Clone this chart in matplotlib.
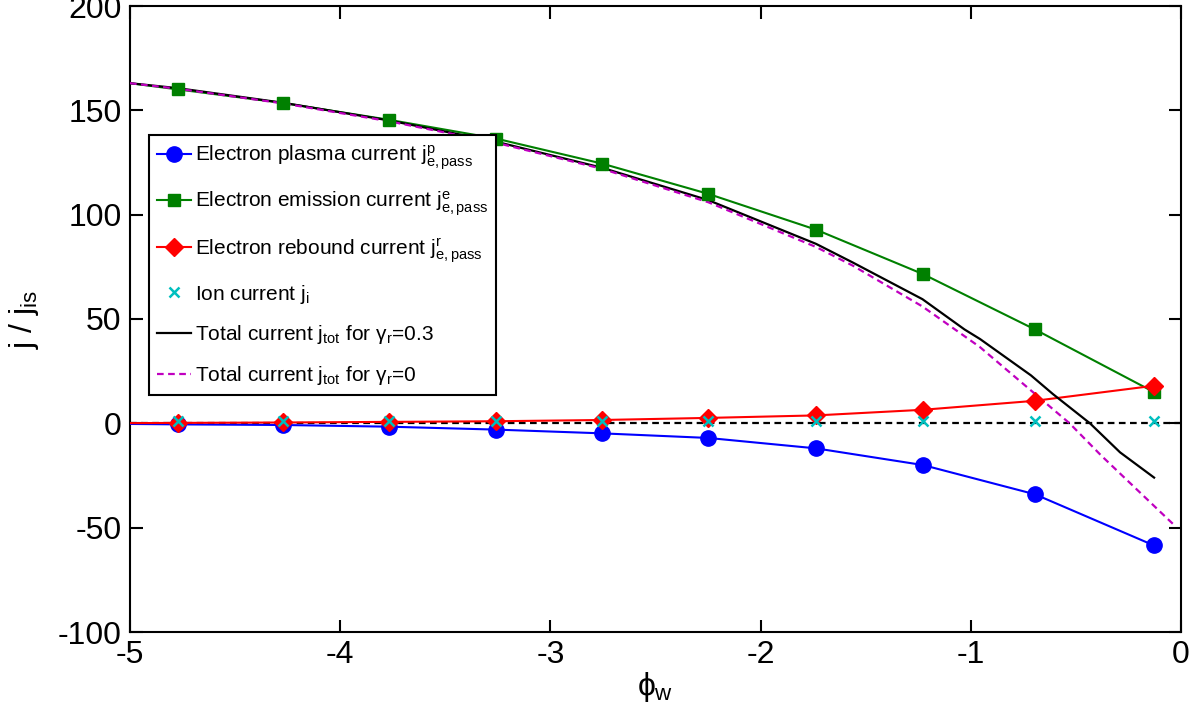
import numpy as np
import matplotlib
matplotlib.use("Agg")
import matplotlib.pyplot as plt

plt.rcParams['font.family'] = ['Liberation Sans', 'DejaVu Sans']
plt.rcParams['mathtext.fontset'] = 'custom'
plt.rcParams['mathtext.rm'] = 'Liberation Sans'
plt.rcParams['mathtext.it'] = 'Liberation Sans'
plt.rcParams['mathtext.bf'] = 'Liberation Sans:bold'
plt.rcParams['axes.unicode_minus'] = False

# marker positions (phi_w)
phi = [-4.77, -4.27, -3.77, -3.26, -2.755, -2.25, -1.736, -1.227, -0.695, -0.129]

# line positions start at the left edge
phi_line = [-5.0] + phi

# electron plasma current
j_plasma = [-0.5, -0.8, -1.6, -3.0, -4.8, -7.0, -12.0, -20.0, -34.0, -58.5]
j_plasma_line = [-0.3] + j_plasma
# electron emission current
j_emis = [160.0, 153.5, 145.5, 136.5, 124.5, 110.0, 92.8, 71.5, 45.0, 15.0]
j_emis_line = [163.0] + j_emis
# electron rebound current
j_reb = [0.2, 0.4, 0.7, 1.0, 1.6, 2.6, 3.8, 6.5, 10.8, 18.0]
j_reb_line = [0.1] + j_reb
# ion current
j_ion = [1.0] * 10

# total current, gamma_r = 0.3
phi_tot = [-5.0, -4.77, -4.27, -3.77, -3.26, -2.755, -2.25, -1.736, -1.56, -1.23,
           -1.03, -0.956, -0.714, -0.609, -0.433, -0.29, -0.128]
j_tot = [163.0, 160.6, 153.6, 145.2, 135.0, 122.5, 107.0, 86.0, 77.0, 59.5,
         45.0, 40.4, 23.0, 14.0, 0.0, -13.9, -26.0]

# total current, gamma_r = 0
phi_tot0 = [-5.0, -4.77, -4.27, -3.77, -3.26, -2.755, -2.25, -1.736, -1.56, -1.23,
            -0.956, -0.705, -0.53, -0.38, -0.03]
j_tot0 = [163.0, 160.3, 153.3, 144.8, 134.5, 122.0, 106.0, 84.5, 75.5, 56.0,
          36.5, 15.0, 0.0, -15.4, -49.0]

fig = plt.figure(figsize=(11.99, 7.17), dpi=100)
ax = fig.add_axes([130/1199, 85/717, 1051/1199, 626/717])

ax.axhline(0, color='k', ls='--', lw=1.6, dashes=(3, 2), zorder=1)

ax.plot(phi_line, j_plasma_line, color='b', lw=1.5, zorder=3)
ax.plot(phi, j_plasma, 'o', color='b', ms=11, zorder=4)
ax.plot(phi_line, j_emis_line, color=(0, 0.5, 0), lw=1.5, zorder=3)
ax.plot(phi, j_emis, 's', color=(0, 0.5, 0), ms=9, zorder=4)
ax.plot(phi_line, j_reb_line, color='r', lw=1.5, zorder=3)
ax.plot(phi, j_reb, 'D', color='r', ms=9, zorder=4)
ax.plot(phi, j_ion, 'x', color=(0, 0.75, 0.75), ms=7, mew=1.8, zorder=5)
ax.plot(phi_tot, j_tot, color='k', lw=1.6, zorder=3)
ax.plot(phi_tot0, j_tot0, color='#c000c0', lw=1.6, ls='--', dashes=(3, 2), zorder=3)

# legend handles
h1, = ax.plot([], [], '-o', color='b', ms=11, lw=1.5)
h2, = ax.plot([], [], '-s', color=(0, 0.5, 0), ms=9, lw=1.5)
h3, = ax.plot([], [], '-D', color='r', ms=9, lw=1.5)
h4, = ax.plot([], [], 'x', color=(0, 0.75, 0.75), ms=7, mew=1.8)
h5, = ax.plot([], [], '-', color='k', lw=1.6)
h6, = ax.plot([], [], '--', color='#c000c0', lw=1.6, dashes=(3, 2))
labels = [r'Electron plasma current $\mathrm{j^{p}_{e,pass}}$',
          r'Electron emission current $\mathrm{j^{e}_{e,pass}}$',
          r'Electron rebound current $\mathrm{j^{r}_{e,pass}}$',
          r'Ion current $\mathrm{j_{i}}$',
          r'Total current $\mathrm{j_{tot}}$ for $\gamma_{\mathrm{r}}$=0.3',
          r'Total current $\mathrm{j_{tot}}$ for $\gamma_{\mathrm{r}}$=0']
leg = ax.legend([h1, h2, h3, h4, h5, h6], labels, loc='upper left',
                bbox_to_anchor=(0.018, 0.794), fontsize=15, frameon=True,
                fancybox=False, edgecolor='k', framealpha=1, borderaxespad=0,
                handlelength=1.6, handletextpad=0.2, labelspacing=0.85,
                borderpad=0.4)
leg.get_frame().set_linewidth(1.5)

ax.set_xlim(-5, 0)
ax.set_ylim(-100, 200)
ax.set_xticks([-5, -4, -3, -2, -1, 0])
ax.set_yticks([-100, -50, 0, 50, 100, 150, 200])
ax.tick_params(direction='in', top=True, right=True, length=9, width=1.5,
               labelsize=23, pad=6)
for s in ax.spines.values():
    s.set_linewidth(1.5)

ax.set_xlabel(r'$\phi_{\mathrm{w}}$', fontsize=23, labelpad=0)
ax.set_ylabel(r'$\mathrm{j\ /\ j_{is}}$', fontsize=23, labelpad=12)

fig.savefig('out.png', dpi=100)
